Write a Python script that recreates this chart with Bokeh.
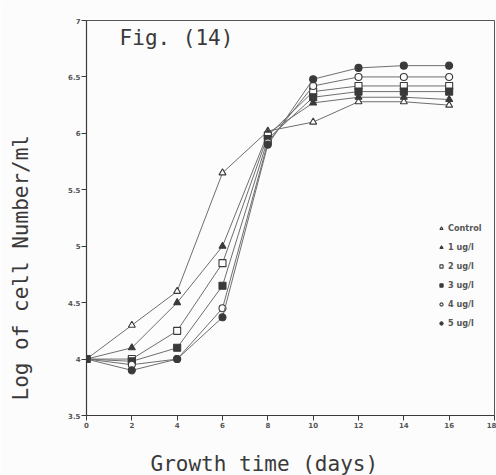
import math
from bokeh.plotting import figure
from bokeh.models import Label, Legend, LegendItem, FixedTicker, Title
from bokeh.embed import file_html
from bokeh.resources import INLINE

# Growth of cells (log cell number/ml) over time at several concentrations
days = [0, 2, 4, 6, 8, 10, 12, 14, 16]
control = [4.0, 4.3, 4.6, 5.65, 6.02, 6.1, 6.28, 6.28, 6.25]
ug1 = [4.0, 4.1, 4.5, 5.0, 6.0, 6.27, 6.32, 6.32, 6.3]
ug2 = [4.0, 4.0, 4.25, 4.85, 5.98, 6.37, 6.42, 6.42, 6.42]
ug3 = [4.0, 3.98, 4.1, 4.65, 5.95, 6.32, 6.37, 6.37, 6.37]
ug4 = [4.0, 3.95, 4.0, 4.45, 5.92, 6.42, 6.5, 6.5, 6.5]
ug5 = [4.0, 3.9, 4.0, 4.37, 5.9, 6.48, 6.58, 6.6, 6.6]

series_names = ["Control", "1 ug/l", "2 ug/l", "3 ug/l", "4 ug/l", "5 ug/l"]
series_values = [control, ug1, ug2, ug3, ug4, ug5]
markers = ["triangle", "triangle", "square", "square", "circle", "circle"]
filled = [False, True, False, True, False, True]

x_ticks = [0, 2, 4, 6, 8, 10, 12, 14, 16, 18]
y_ticks = [3.5, 4, 4.5, 5, 5.5, 6, 6.5, 7]

ink = "#3a3a3a"
line_ink = "#6e6e6e"
paper = "#fcfcfc"
mono = "DejaVu Sans Mono"

p = figure(width=496, height=475, x_range=(0, 18), y_range=(3.5, 7),
           output_backend="svg", toolbar_location=None,
           min_border_left=86, min_border_right=2, min_border_top=20,
           min_border_bottom=60)
p.background_fill_color = paper
p.border_fill_color = paper
p.outline_line_color = "#555555"
p.outline_line_width = 1
p.xgrid.visible = False
p.ygrid.visible = False

for ax in (p.xaxis, p.yaxis):
    ax.axis_line_color = ink
    ax.axis_line_width = 1.2
    ax.major_tick_line_color = ink
    ax.major_tick_in = 0
    ax.major_tick_out = 5
    ax.minor_tick_line_color = None
    ax.major_label_text_font = "DejaVu Sans"
    ax.major_label_text_font_style = "bold"
    ax.major_label_text_font_size = "7px"
    ax.major_label_text_color = "#555555"
    ax.major_label_standoff = 1
    # blank axis label used only as a gap before the side titles
    ax.axis_label = " "
    ax.axis_label_text_font_size = "10px"

p.xaxis.axis_label_standoff = 5
p.yaxis.axis_label_standoff = 19

p.xaxis.ticker = FixedTicker(ticks=x_ticks)
p.yaxis.ticker = FixedTicker(ticks=y_ticks)
p.yaxis.major_label_overrides = {3.5: "3.5", 4: "4", 4.5: "4.5", 5: "5",
                                 5.5: "5.5", 6: "6", 6.5: "6.5", 7: "7"}

items = []
for name, vals, mk, fill in zip(series_names, series_values, markers, filled):
    p.line(days, vals, line_color=line_ink, line_width=1)
    r = p.scatter(days, vals, marker=mk, size=7,
                  line_color=ink, line_width=1.1,
                  fill_color=ink if fill else paper)
    items.append(LegendItem(label=name, renderers=[r]))

legend = Legend(items=items, location=(351, 86), orientation="vertical",
                background_fill_alpha=0, border_line_color=None,
                padding=0, margin=0, spacing=7,
                glyph_height=12, glyph_width=8, label_height=12,
                label_standoff=3,
                label_text_font="DejaVu Sans Condensed", label_text_font_style="bold",
                label_text_font_size="9px", label_text_color="#555555")
p.add_layout(legend, "center")

p.add_layout(Label(x=1.46, y=6.95, text="Fig. (14)", text_font=mono,
                   text_font_size="21px", text_color=ink,
                   text_baseline="top", text_align="left"))

# axis titles, shifted along their sides
xt = Title(text="Growth time (days)", align="left", offset=64, standoff=0,
           text_font=mono, text_font_size="21px", text_color=ink,
           text_font_style="normal")
p.add_layout(xt, "below")
yt = Title(text="Log of cell Number/ml", align="left", offset=15, standoff=0,
           text_font=mono, text_font_size="21px", text_color=ink,
           text_font_style="normal")
p.add_layout(yt, "left")

open("out.html", "w").write(file_html(p, INLINE))
